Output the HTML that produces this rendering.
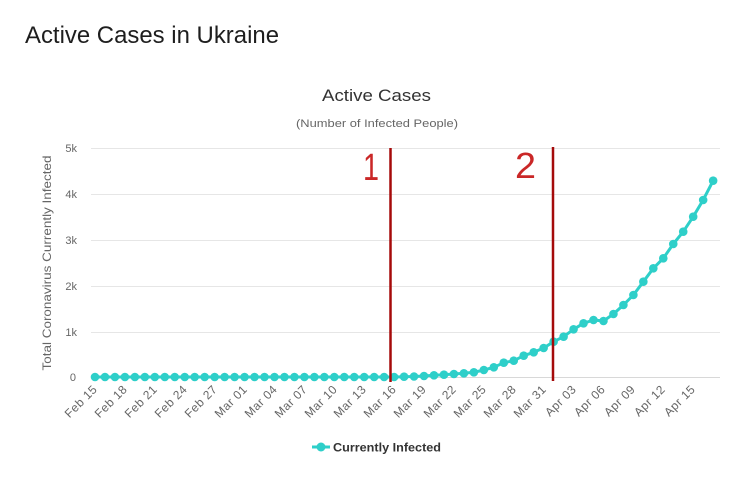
<!DOCTYPE html>
<html><head><meta charset="utf-8"><style>
html,body{margin:0;padding:0;background:#fff;}
svg{display:block;}
text{font-family:"Liberation Sans",sans-serif;}
</style></head><body>
<svg width="731" height="482" viewBox="0 0 731 482" xmlns="http://www.w3.org/2000/svg">
<rect width="731" height="482" fill="#fff"/>
<text x="25" y="43" font-size="24" fill="#1e1e1e" textLength="254" lengthAdjust="spacingAndGlyphs">Active Cases in Ukraine</text>
<text x="322" y="101" font-size="17" fill="#333" textLength="109" lengthAdjust="spacingAndGlyphs">Active Cases</text>
<text x="296" y="127" font-size="11" fill="#666" textLength="162" lengthAdjust="spacingAndGlyphs">(Number of Infected People)</text>
<g stroke="#e6e6e6" stroke-width="1">
<line x1="91" y1="148.5" x2="720" y2="148.5"/>
<line x1="91" y1="194.5" x2="720" y2="194.5"/>
<line x1="91" y1="240.5" x2="720" y2="240.5"/>
<line x1="91" y1="286.5" x2="720" y2="286.5"/>
<line x1="91" y1="332.5" x2="720" y2="332.5"/>
</g>
<line x1="91" y1="377.5" x2="720" y2="377.5" stroke="#d8d8d8" stroke-width="1"/>
<g font-size="11" fill="#666" text-anchor="end">
<text x="77" y="152">5k</text>
<text x="77" y="198">4k</text>
<text x="77" y="244">3k</text>
<text x="77" y="290">2k</text>
<text x="77" y="336">1k</text>
<text x="76" y="381">0</text>
</g>
<text transform="translate(51,263) rotate(-90)" font-size="12" fill="#666" text-anchor="middle" textLength="215" lengthAdjust="spacingAndGlyphs">Total Coronavirus Currently Infected</text>
<g font-size="12" fill="#666" text-anchor="end" letter-spacing="0.5">
<text transform="translate(98,390) rotate(-45)">Feb 15</text>
<text transform="translate(128,390) rotate(-45)">Feb 18</text>
<text transform="translate(158,390) rotate(-45)">Feb 21</text>
<text transform="translate(188,390) rotate(-45)">Feb 24</text>
<text transform="translate(218,390) rotate(-45)">Feb 27</text>
<text transform="translate(248,390) rotate(-45)">Mar 01</text>
<text transform="translate(278,390) rotate(-45)">Mar 04</text>
<text transform="translate(308,390) rotate(-45)">Mar 07</text>
<text transform="translate(338,390) rotate(-45)">Mar 10</text>
<text transform="translate(367,390) rotate(-45)">Mar 13</text>
<text transform="translate(397,390) rotate(-45)">Mar 16</text>
<text transform="translate(427,390) rotate(-45)">Mar 19</text>
<text transform="translate(457,390) rotate(-45)">Mar 22</text>
<text transform="translate(487,390) rotate(-45)">Mar 25</text>
<text transform="translate(517,390) rotate(-45)">Mar 28</text>
<text transform="translate(547,390) rotate(-45)">Mar 31</text>
<text transform="translate(577,390) rotate(-45)">Apr 03</text>
<text transform="translate(606,390) rotate(-45)">Apr 06</text>
<text transform="translate(636,390) rotate(-45)">Apr 09</text>
<text transform="translate(666,390) rotate(-45)">Apr 12</text>
<text transform="translate(696,390) rotate(-45)">Apr 15</text>
</g>
<polyline fill="none" stroke="#2ecfc9" stroke-width="3" stroke-linejoin="round" points="95,377 104.97,377 114.94,377 124.91,377 134.88,377 144.85,377 154.82,377 164.79,377 174.76,377 184.73,377 194.7,377 204.67,377 214.64,377 224.61,377 234.58,377 244.55,377 254.52,377 264.49,377 274.46,377 284.43,377 294.4,377 304.37,377 314.34,377 324.31,377 334.28,377 344.25,377 354.22,377 364.19,377 374.16,377 384.13,377 394.1,377 404.07,376.7 414.04,376.5 424.01,376 433.98,375.3 443.95,374.7 453.92,374 463.89,373.3 473.86,372.3 483.83,370 493.8,367.3 503.77,362.7 513.74,360.7 523.71,355.7 533.68,352.3 543.65,348 553.62,341.7 563.59,336.7 573.56,329.3 583.53,323.3 593.5,320 603.47,321 613.44,314 623.41,305 633.38,295 643.35,281.7 653.32,268.3 663.29,258.3 673.26,244 683.23,231.7 693.2,216.7 703.17,200 713.14,180.7"/>
<g fill="#2ecfc9">
<circle cx="95" cy="377" r="4.3"/><circle cx="104.97" cy="377" r="4.3"/><circle cx="114.94" cy="377" r="4.3"/><circle cx="124.91" cy="377" r="4.3"/><circle cx="134.88" cy="377" r="4.3"/><circle cx="144.85" cy="377" r="4.3"/><circle cx="154.82" cy="377" r="4.3"/><circle cx="164.79" cy="377" r="4.3"/><circle cx="174.76" cy="377" r="4.3"/><circle cx="184.73" cy="377" r="4.3"/><circle cx="194.7" cy="377" r="4.3"/><circle cx="204.67" cy="377" r="4.3"/><circle cx="214.64" cy="377" r="4.3"/><circle cx="224.61" cy="377" r="4.3"/><circle cx="234.58" cy="377" r="4.3"/><circle cx="244.55" cy="377" r="4.3"/><circle cx="254.52" cy="377" r="4.3"/><circle cx="264.49" cy="377" r="4.3"/><circle cx="274.46" cy="377" r="4.3"/><circle cx="284.43" cy="377" r="4.3"/><circle cx="294.4" cy="377" r="4.3"/><circle cx="304.37" cy="377" r="4.3"/><circle cx="314.34" cy="377" r="4.3"/><circle cx="324.31" cy="377" r="4.3"/><circle cx="334.28" cy="377" r="4.3"/><circle cx="344.25" cy="377" r="4.3"/><circle cx="354.22" cy="377" r="4.3"/><circle cx="364.19" cy="377" r="4.3"/><circle cx="374.16" cy="377" r="4.3"/><circle cx="384.13" cy="377" r="4.3"/><circle cx="394.1" cy="377" r="4.3"/><circle cx="404.07" cy="376.7" r="4.3"/><circle cx="414.04" cy="376.5" r="4.3"/><circle cx="424.01" cy="376" r="4.3"/><circle cx="433.98" cy="375.3" r="4.3"/><circle cx="443.95" cy="374.7" r="4.3"/><circle cx="453.92" cy="374" r="4.3"/><circle cx="463.89" cy="373.3" r="4.3"/><circle cx="473.86" cy="372.3" r="4.3"/><circle cx="483.83" cy="370" r="4.3"/><circle cx="493.8" cy="367.3" r="4.3"/><circle cx="503.77" cy="362.7" r="4.3"/><circle cx="513.74" cy="360.7" r="4.3"/><circle cx="523.71" cy="355.7" r="4.3"/><circle cx="533.68" cy="352.3" r="4.3"/><circle cx="543.65" cy="348" r="4.3"/><circle cx="553.62" cy="341.7" r="4.3"/><circle cx="563.59" cy="336.7" r="4.3"/><circle cx="573.56" cy="329.3" r="4.3"/><circle cx="583.53" cy="323.3" r="4.3"/><circle cx="593.5" cy="320" r="4.3"/><circle cx="603.47" cy="321" r="4.3"/><circle cx="613.44" cy="314" r="4.3"/><circle cx="623.41" cy="305" r="4.3"/><circle cx="633.38" cy="295" r="4.3"/><circle cx="643.35" cy="281.7" r="4.3"/><circle cx="653.32" cy="268.3" r="4.3"/><circle cx="663.29" cy="258.3" r="4.3"/><circle cx="673.26" cy="244" r="4.3"/><circle cx="683.23" cy="231.7" r="4.3"/><circle cx="693.2" cy="216.7" r="4.3"/><circle cx="703.17" cy="200" r="4.3"/><circle cx="713.14" cy="180.7" r="4.3"/>
</g>
<line x1="390.5" y1="148" x2="390.5" y2="382" stroke="#a50a0a" stroke-width="2.5"/>
<line x1="553" y1="147" x2="553" y2="381" stroke="#a50a0a" stroke-width="2.5"/>
<text x="363" y="180" font-size="38" fill="#c41010" fill-opacity="0.9" textLength="16" lengthAdjust="spacingAndGlyphs">1</text>
<text x="515" y="178" font-size="36" fill="#c41010" fill-opacity="0.9" textLength="21" lengthAdjust="spacingAndGlyphs">2</text>
<line x1="312" y1="447" x2="330" y2="447" stroke="#2ecfc9" stroke-width="3"/>
<circle cx="321" cy="447" r="4.5" fill="#2ecfc9"/>
<text x="333" y="451.5" font-size="12" font-weight="bold" fill="#333" textLength="108" lengthAdjust="spacingAndGlyphs">Currently Infected</text>
</svg>
</body></html>
